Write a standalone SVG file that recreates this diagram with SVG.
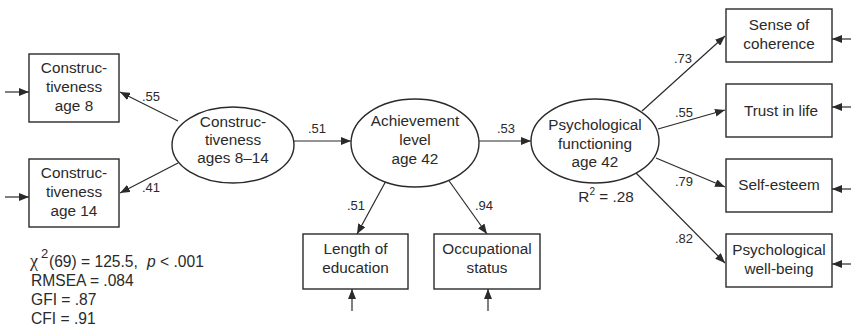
<svg xmlns="http://www.w3.org/2000/svg" width="851" height="328" viewBox="0 0 851 328">
<style>
.n{fill:#fff;stroke:#2a2a2a;stroke-width:1.4}
.t{font-family:"Liberation Sans",Arial,sans-serif;font-size:15.3px;fill:#2a2a2a;text-anchor:middle}
.l{font-family:"Liberation Sans",Arial,sans-serif;font-size:13px;fill:#2a2a2a;text-anchor:middle}
.s{font-family:"Liberation Sans",Arial,sans-serif;font-size:15.6px;fill:#2a2a2a}
.c{stroke:#2a2a2a;stroke-width:1.2;fill:none;marker-end:url(#ah)}
</style>
<defs>
<marker id="ah" viewBox="0 0 10 8" refX="10" refY="4" markerWidth="10" markerHeight="8" markerUnits="userSpaceOnUse" orient="auto">
<path d="M0,0 L10,4 L0,8 z" fill="#2a2a2a"/>
</marker>
</defs>
<rect width="851" height="328" fill="#fff"/>
<g id="connectors">
<line class="c" x1="5" y1="92" x2="29" y2="92"/>
<line class="c" x1="5" y1="197" x2="29" y2="197"/>
<line class="c" x1="178" y1="121" x2="120" y2="92"/>
<line class="c" x1="178" y1="163" x2="120" y2="193"/>
<line class="c" x1="294" y1="141" x2="351" y2="141"/>
<line class="c" x1="479" y1="141" x2="531" y2="141"/>
<line class="c" x1="387" y1="179" x2="357" y2="234"/>
<line class="c" x1="447" y1="178" x2="487" y2="234"/>
<line class="c" x1="352" y1="311" x2="352" y2="289"/>
<line class="c" x1="488" y1="311" x2="488" y2="289"/>
<line class="c" x1="642" y1="111" x2="725" y2="36"/>
<line class="c" x1="658" y1="129" x2="725" y2="110"/>
<line class="c" x1="656" y1="158" x2="725" y2="187"/>
<line class="c" x1="636" y1="173" x2="725" y2="263"/>
<line class="c" x1="851" y1="39" x2="832" y2="39"/>
<line class="c" x1="851" y1="107" x2="832" y2="107"/>
<line class="c" x1="851" y1="189" x2="832" y2="189"/>
<line class="c" x1="851" y1="264" x2="832" y2="264"/>
<text class="l" x="151" y="101">.55</text>
<text class="l" x="151" y="192">.41</text>
<text class="l" x="317" y="133">.51</text>
<text class="l" x="506" y="133">.53</text>
<text class="l" x="356" y="210">.51</text>
<text class="l" x="484" y="210">.94</text>
<text class="l" x="683" y="63">.73</text>
<text class="l" x="684" y="117">.55</text>
<text class="l" x="684" y="186">.79</text>
<text class="l" x="684" y="243">.82</text>
</g>
<g id="c8">
<rect class="n" x="29" y="54" width="90" height="68"/>
<text class="t" x="74" y="73">Construc-</text>
<text class="t" x="74" y="92">tiveness</text>
<text class="t" x="74" y="111">age 8</text>
</g>
<g id="c14">
<rect class="n" x="29" y="159" width="90" height="68"/>
<text class="t" x="74" y="178">Construc-</text>
<text class="t" x="74" y="197">tiveness</text>
<text class="t" x="74" y="216">age 14</text>
</g>
<g id="c814">
<ellipse class="n" cx="233" cy="145" rx="61" ry="38"/>
<text class="t" x="233" y="127">Construc-</text>
<text class="t" x="233" y="145">tiveness</text>
<text class="t" x="233" y="163">ages 8–14</text>
</g>
<g id="ach">
<ellipse class="n" cx="415" cy="143" rx="64" ry="44"/>
<text class="t" x="415" y="126">Achievement</text>
<text class="t" x="415" y="145">level</text>
<text class="t" x="415" y="164">age 42</text>
</g>
<g id="psy">
<ellipse class="n" cx="595" cy="141" rx="64" ry="42"/>
<text class="t" x="595" y="130">Psychological</text>
<text class="t" x="595" y="149">functioning</text>
<text class="t" x="595" y="167">age 42</text>
<text class="t" x="606" y="202">R<tspan font-size="10" dy="-7">2</tspan><tspan dy="7"> = .28</tspan></text>
</g>
<g id="edu">
<rect class="n" x="303" y="234" width="105" height="55"/>
<text class="t" x="355.5" y="254">Length of</text>
<text class="t" x="355.5" y="273">education</text>
</g>
<g id="occ">
<rect class="n" x="434" y="234" width="106" height="55"/>
<text class="t" x="487" y="254">Occupational</text>
<text class="t" x="487" y="273">status</text>
</g>
<g id="soc">
<rect class="n" x="726" y="9" width="106" height="53"/>
<text class="t" x="779" y="30">Sense of</text>
<text class="t" x="779" y="49">coherence</text>
</g>
<g id="til">
<rect class="n" x="726" y="84" width="106" height="53"/>
<text class="t" x="781" y="116">Trust in life</text>
</g>
<g id="se">
<rect class="n" x="726" y="159" width="106" height="53"/>
<text class="t" x="779" y="190">Self-esteem</text>
</g>
<g id="pwb">
<rect class="n" x="726" y="234" width="106" height="53"/>
<text class="t" x="779" y="255">Psychological</text>
<text class="t" x="779" y="274">well-being</text>
</g>
<g id="stats">
<text class="s" x="30" y="267"><tspan font-family="Liberation Serif,serif" font-size="18">χ</tspan><tspan x="41" font-size="13" dy="-9">2</tspan><tspan x="49" dy="9">(69) = 125.5,</tspan><tspan x="147" font-style="italic">p</tspan> &lt; .001</text>
<text class="s" x="31" y="286">RMSEA = .084</text>
<text class="s" x="31" y="305">GFI = .87</text>
<text class="s" x="31" y="324">CFI = .91</text>
</g>
</svg>
